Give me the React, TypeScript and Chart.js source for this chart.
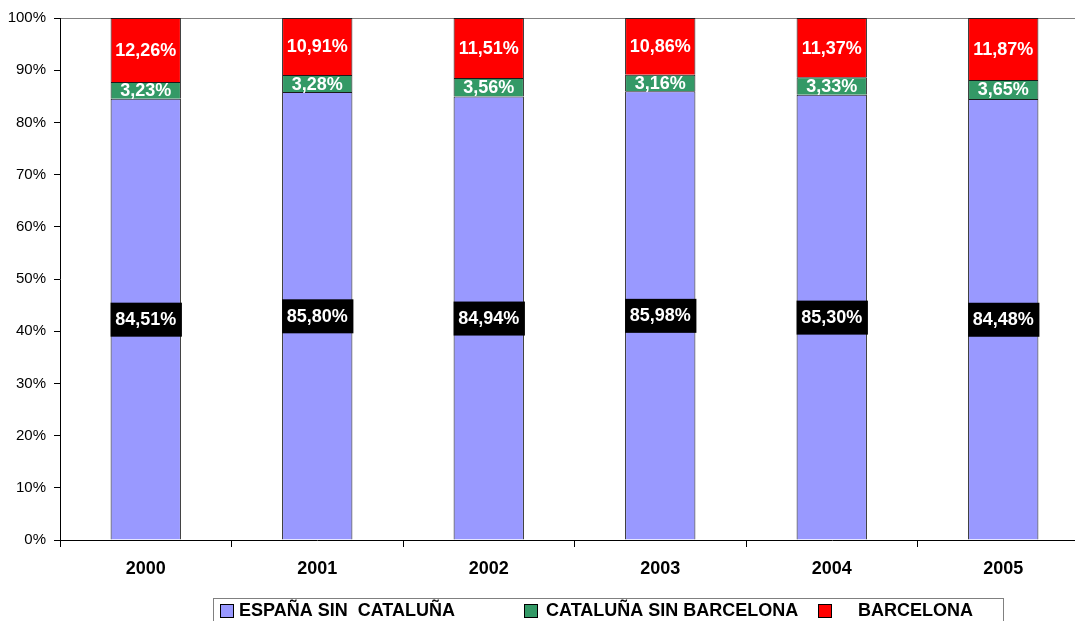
import React, { useEffect, useRef } from "react";
import { Chart, registerables } from "chart.js";

Chart.register(...registerables);

const categories = ["2000", "2001", "2002", "2003", "2004", "2005"];
const espanaSinCataluna = [84.51, 85.8, 84.94, 85.98, 85.3, 84.48];
const catalunaSinBarcelona = [3.23, 3.28, 3.56, 3.16, 3.33, 3.65];
const barcelona = [12.26, 10.91, 11.51, 10.86, 11.37, 11.87];
const seriesNames = ["ESPAÑA SIN  CATALUÑA", "CATALUÑA SIN BARCELONA", "BARCELONA"];
const seriesColors = ["#9999FF", "#339966", "#FF0000"];
const yTicks = [0, 10, 20, 30, 40, 50, 60, 70, 80, 90, 100];

const FONT = "'Liberation Sans', Arial, sans-serif";

const fmt = (v: number) => v.toFixed(2).replace(".", ",") + "%";

const labelPlugin = {
  id: "segLabels",
  afterDatasetsDraw(chart: any) {
    const ctx = chart.ctx;
    ctx.save();
    ctx.font = `bold 18px ${FONT}`;
    ctx.textAlign = "center";
    ctx.textBaseline = "middle";
    chart.data.datasets.forEach((ds: any, di: number) => {
      const meta = chart.getDatasetMeta(di);
      meta.data.forEach((el: any, i: number) => {
        const v = ds.data[i];
        const cx = el.x;
        const cy = (el.y + el.base) / 2;
        const w = el.width;
        if (di === 0) {
          ctx.fillStyle = "#000";
          ctx.fillRect(cx - w / 2, cy - 16.5, w + 1, 34);
        }
        ctx.fillStyle = "#fff";
        ctx.fillText(fmt(v), cx, cy + 1);
      });
    });
    ctx.restore();
  },
};

const legendPlugin = {
  id: "boxLegend",
  afterDraw(chart: any) {
    const ctx = chart.ctx;
    ctx.save();
    ctx.strokeStyle = "#808080";
    ctx.lineWidth = 1;
    ctx.strokeRect(213.5, 598.5, 790, 40);
    const items = [
      { sq: 220, tx: 239 },
      { sq: 524, tx: 546 },
      { sq: 818, tx: 858 },
    ];
    ctx.font = `bold 18px ${FONT}`;
    ctx.textAlign = "left";
    ctx.textBaseline = "alphabetic";
    items.forEach((it, i) => {
      ctx.fillStyle = seriesColors[i];
      ctx.fillRect(it.sq, 604, 13, 13);
      ctx.strokeStyle = "#000";
      ctx.strokeRect(it.sq + 0.5, 604.5, 13, 13);
      ctx.fillStyle = "#000";
      ctx.fillText(seriesNames[i], it.tx, 616);
    });
    ctx.restore();
  },
};

export default function App() {
  const ref = useRef<HTMLCanvasElement>(null);
  useEffect(() => {
    const canvas = ref.current!;
    const datasets = [espanaSinCataluna, catalunaSinBarcelona, barcelona].map((d, i) => ({
      label: seriesNames[i],
      data: d,
      backgroundColor: seriesColors[i],
      borderColor: "#1a1a1a",
      borderWidth: 1,
      barPercentage: 0.41,
      categoryPercentage: 1,
    }));
    const chart = new Chart(canvas, {
      type: "bar",
      data: { labels: categories, datasets },
      plugins: [labelPlugin, legendPlugin],
      options: {
        responsive: false,
        animation: false,
        layout: { padding: { top: 18, right: 3, left: 0, bottom: 0 } },
        plugins: { legend: { display: false }, tooltip: { enabled: false } },
        scales: {
          x: {
            stacked: true,
            afterFit: (s: any) => {
              s.height = 81;
            },
            grid: {
              offset: true,
              drawOnChartArea: false,
              tickLength: 7,
              color: "#000",
            },
            border: { color: "#000", width: 1 },
            ticks: {
              padding: 11,
              color: "#000",
              font: { family: FONT, size: 18, weight: "bold" },
            },
          },
          y: {
            stacked: true,
            min: 0,
            max: 100,
            afterFit: (s: any) => {
              s.width = 60;
            },
            afterBuildTicks: (s: any) => {
              s.ticks = yTicks.map((v) => ({ value: v }));
            },
            grid: {
              color: (c: any) => (c.tick && c.tick.value === 100 ? "#808080" : "rgba(0,0,0,0)"),
              tickColor: "#000",
              tickLength: 6,
            },
            border: { color: "#000", width: 1 },
            ticks: {
              padding: 8,
              color: "#000",
              font: { family: FONT, size: 15 },
              callback: (v: any) => v + "%",
            },
          },
        },
      },
    });
    return () => chart.destroy();
  }, []);
  return (
    <div style={{ position: "absolute", left: 0, top: 0, width: 1075, height: 621, overflow: "hidden", background: "#fff" }}>
      <canvas ref={ref} width={1092} height={621} style={{ width: 1092, height: 621, display: "block" }} />
    </div>
  );
}
